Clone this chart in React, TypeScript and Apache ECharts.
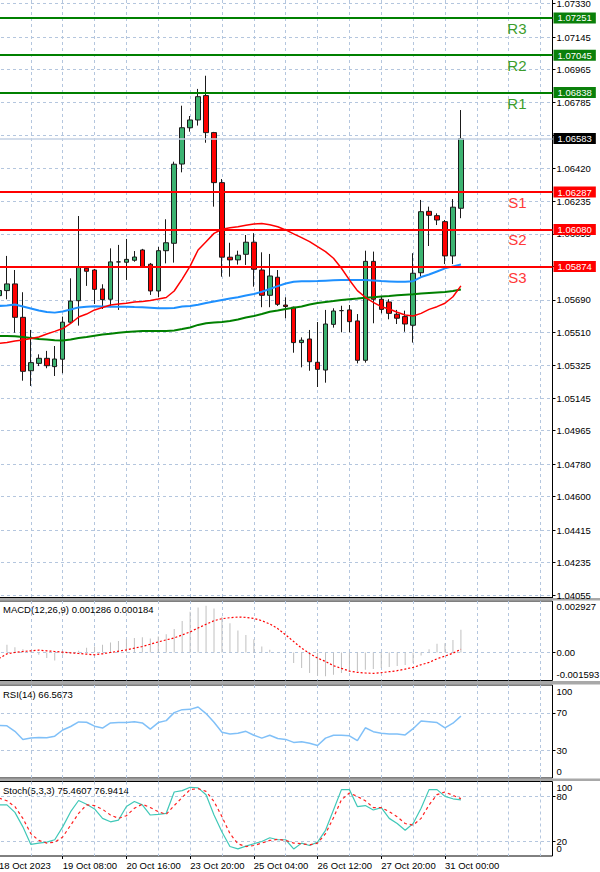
import React, { useEffect, useRef } from 'react';
import * as echarts from 'echarts';

const FONT = '"Liberation Sans", Arial, sans-serif';

// ---- candles (H4) ----
const candleOpen = [1.05713, 1.05741, 1.05778, 1.05593, 1.05297, 1.05338, 1.05366, 1.0532, 1.05361, 1.05566,
  1.05685, 1.05865, 1.05855, 1.0575, 1.05693, 1.059, 1.05898, 1.05909, 1.05966, 1.05887,
  1.05739, 1.05962, 1.06003, 1.06442, 1.06643, 1.06686, 1.06821, 1.06616, 1.06339, 1.05926,
  1.05911, 1.05942, 1.06009, 1.05855, 1.05715, 1.05815, 1.05661, 1.05649, 1.05453, 1.05473,
  1.05344, 1.05301, 1.05554, 1.0563, 1.05634, 1.05573, 1.05355, 1.05903, 1.05693, 1.05678,
  1.0561, 1.05597, 1.05549, 1.0584, 1.0618, 1.06156, 1.06123, 1.05933, 1.06197];
const candleHigh = [1.05772, 1.05933, 1.05855, 1.05732, 1.05523, 1.05388, 1.05407, 1.05434, 1.05597, 1.05809,
  1.06154, 1.05869, 1.05861, 1.05776, 1.05975, 1.05994, 1.06027, 1.0596, 1.05972, 1.05894,
  1.05983, 1.06136, 1.06455, 1.06765, 1.06708, 1.06858, 1.06931, 1.0662, 1.06359, 1.06006,
  1.05962, 1.06049, 1.06059, 1.05953, 1.05944, 1.05855, 1.05704, 1.05652, 1.05482, 1.05523,
  1.05567, 1.05634, 1.05643, 1.05657, 1.05661, 1.05611, 1.05962, 1.05957, 1.05706, 1.05693,
  1.05634, 1.0563, 1.05948, 1.06243, 1.06206, 1.06169, 1.06132, 1.06248, 1.06741];
const candleLow = [1.05689, 1.05693, 1.05508, 1.05242, 1.05213, 1.05323, 1.05311, 1.05268, 1.05283, 1.0556,
  1.05547, 1.05767, 1.05667, 1.05639, 1.05649, 1.05634, 1.058, 1.05901, 1.05872, 1.05717,
  1.05704, 1.05892, 1.05896, 1.06396, 1.06621, 1.06655, 1.0656, 1.06206, 1.05818, 1.05818,
  1.05885, 1.05883, 1.05763, 1.05649, 1.05649, 1.05656, 1.05588, 1.05397, 1.05316, 1.05297,
  1.05207, 1.05231, 1.05536, 1.0551, 1.0551, 1.05338, 1.05342, 1.0556, 1.05615, 1.05582,
  1.05556, 1.05513, 1.05453, 1.05818, 1.05988, 1.06104, 1.05888, 1.05888, 1.06142];
const candleClose = [1.05741, 1.05778, 1.05593, 1.05294, 1.05342, 1.05366, 1.05325, 1.05362, 1.05566, 1.05683,
  1.05872, 1.05848, 1.05748, 1.05691, 1.059, 1.059, 1.05914, 1.05927, 1.05874, 1.05739,
  1.05962, 1.06006, 1.06441, 1.06643, 1.06686, 1.06815, 1.06616, 1.06339, 1.05926, 1.05911,
  1.05937, 1.06009, 1.05859, 1.05715, 1.05822, 1.05665, 1.05653, 1.05453, 1.05466, 1.05347,
  1.05305, 1.05556, 1.05628, 1.0563, 1.05569, 1.05355, 1.05903, 1.05693, 1.05637, 1.05615,
  1.05588, 1.05556, 1.05837, 1.06178, 1.06158, 1.06132, 1.05933, 1.06203, 1.06583];

// ---- moving averages ----
const maRed = [1.05448, 1.05454, 1.05462, 1.05467, 1.05476, 1.05484, 1.05501, 1.05515, 1.05531, 1.05559,
  1.05595, 1.05611, 1.05634, 1.05647, 1.05661, 1.05667, 1.05671, 1.05678, 1.05681, 1.05686,
  1.05694, 1.05703, 1.05739, 1.05805, 1.05877, 1.05966, 1.06012, 1.06058, 1.06081, 1.06089,
  1.06095, 1.06103, 1.0611, 1.06112, 1.06106, 1.06095, 1.06077, 1.06055, 1.06034, 1.06012,
  1.05984, 1.05957, 1.0592, 1.05865, 1.058, 1.05741, 1.05704, 1.05676, 1.05652, 1.05639,
  1.05621, 1.05606, 1.056, 1.05615, 1.05637, 1.05652, 1.05671, 1.05707, 1.05767];
const maBlue = [1.05656, 1.05659, 1.05664, 1.05653, 1.05642, 1.05631, 1.05623, 1.05619, 1.05625, 1.05636,
  1.05648, 1.05652, 1.05654, 1.05653, 1.05652, 1.05652, 1.05652, 1.0565, 1.05649, 1.05646,
  1.05643, 1.05643, 1.05645, 1.05653, 1.05656, 1.05663, 1.05672, 1.05681, 1.05689, 1.05697,
  1.05704, 1.05714, 1.05722, 1.05735, 1.0575, 1.05766, 1.0578, 1.0579, 1.05793, 1.05793,
  1.05794, 1.05796, 1.05798, 1.058, 1.058, 1.058, 1.058, 1.05797, 1.05794, 1.05792,
  1.0579, 1.0579, 1.05793, 1.05816, 1.0583, 1.05847, 1.05864, 1.05875, 1.05886];
const maGreen = [1.0549, 1.0549, 1.05488, 1.05484, 1.05479, 1.05473, 1.0547, 1.05466, 1.05465, 1.0547,
  1.05479, 1.05484, 1.05491, 1.05498, 1.05502, 1.05508, 1.05512, 1.05515, 1.05517, 1.05517,
  1.05517, 1.05517, 1.0552, 1.05528, 1.05537, 1.05551, 1.0556, 1.05564, 1.05567, 1.05573,
  1.05581, 1.05592, 1.056, 1.05611, 1.05624, 1.05631, 1.05639, 1.05646, 1.05653, 1.05664,
  1.05672, 1.05678, 1.05683, 1.05689, 1.05693, 1.05697, 1.05702, 1.05704, 1.05708, 1.05711,
  1.05715, 1.05718, 1.05721, 1.05725, 1.05728, 1.05731, 1.05733, 1.05739, 1.05747];

// ---- pivot levels ----
const levelNames = ['R3', 'R2', 'R1', 'S1', 'S2', 'S3'];
const levelValues = [1.07251, 1.07045, 1.06838, 1.06287, 1.0608, 1.05874];
const currentPrice = 1.06583;

// ---- MACD(12,26,9) ----
const macdMain = [0.0003, 0.000433, 0.000301, 0.000188, 0.000038, -0.000132, -0.00032, -0.000452, -0.000132, -0.000038,
  0.000094, 0.000264, 0.000339, 0.000433, 0.000565, 0.000659, 0.000753, 0.000829, 0.000866, 0.000791,
  0.000904, 0.001036, 0.001337, 0.001789, 0.002317, 0.002561, 0.002655, 0.002505, 0.002034, 0.001657,
  0.001243, 0.000998, 0.000753, 0.000339, 0.000151, 0.000019, -0.000038, -0.000603, -0.000885, -0.001168,
  -0.001318, -0.001356, -0.001262, -0.001168, -0.001092, -0.001073, -0.000979, -0.000942, -0.000885, -0.000829,
  -0.000772, -0.000716, -0.000603, -0.00017, 0.000188, 0.00049, 0.000527, 0.000716, 0.001286];
const macdSignal = [-0.000339, -0.000075, 0, 0.000057, 0.000094, 0.000132, 0.000094, 0.000057, 0.000019, -0.000019,
  -0.000057, -0.000094, -0.000132, -0.000075, 0, 0.000075, 0.000151, 0.000245, 0.000339, 0.000471,
  0.000603, 0.000716, 0.000829, 0.000998, 0.001168, 0.001394, 0.001601, 0.001808, 0.001921, 0.001978,
  0.002015, 0.001996, 0.00194, 0.001808, 0.00162, 0.001356, 0.000998, 0.000622, 0.000245, -0.000057,
  -0.00032, -0.000509, -0.000753, -0.000904, -0.001055, -0.00113, -0.001168, -0.001187, -0.001149, -0.001092,
  -0.001036, -0.000942, -0.000848, -0.000697, -0.000565, -0.000358, -0.000207, -0.000038, 0.000184];

// ---- RSI(14) ----
const rsi = [56.4, 56.1, 50.2, 41.5, 42.9, 43.6, 43.2, 45.0, 51.6, 55.4,
  60.3, 59.9, 55.7, 53.7, 59.2, 59.6, 59.6, 60.6, 59.2, 52.6,
  59.6, 61.7, 70.3, 73.5, 73.8, 76.3, 69.3, 59.9, 49.1, 47.4,
  48.1, 50.2, 46.0, 42.9, 46.0, 42.5, 41.5, 38.3, 39.0, 37.3,
  34.9, 42.9, 46.0, 46.0, 45.3, 40.1, 54.0, 49.8, 48.1, 47.4,
  47.4, 46.3, 53.0, 61.3, 60.6, 59.6, 54.0, 58.9, 66.5673];

// ---- Stochastic(5,3,3) ----
const stochMain = [68.6, 68.6, 58.6, 39.1, 15.5, 17.3, 18.6, 21.8, 39.1, 59.5,
  74.5, 69.5, 63.2, 50.5, 45.9, 48.2, 66.4, 73.2, 68.6, 55.0,
  55.9, 57.3, 85.9, 87.7, 92.3, 91.4, 82.3, 55.0, 32.3, 12.7,
  9.5, 13.2, 16.4, 19.5, 24.5, 21.8, 21.8, 9.5, 17.3, 14.1,
  18.6, 34.5, 61.8, 89.1, 89.1, 66.4, 67.7, 61.8, 65.0, 50.5,
  43.6, 34.5, 43.6, 64.1, 89.1, 89.1, 80.0, 76.8, 75.4607];
const stochSignal = [77.7, 74.1, 66.4, 50.5, 30.0, 20.9, 17.3, 18.6, 25.5, 41.4,
  57.3, 68.6, 67.7, 62.7, 55.0, 50.5, 54.1, 64.1, 69.5, 65.0,
  59.5, 55.9, 67.7, 78.6, 89.1, 90.5, 86.8, 73.2, 52.7, 30.0,
  16.4, 12.7, 14.1, 17.3, 20.9, 22.3, 20.9, 17.3, 16.4, 15.0,
  17.3, 30.0, 51.4, 75.5, 84.5, 80.0, 74.1, 65.0, 65.0, 59.5,
  52.7, 43.6, 41.4, 50.5, 68.6, 82.3, 85.9, 81.4, 76.9414];

// ---- axis ticks / labels ----
const priceTicks = [1.04055, 1.04235, 1.04415, 1.046, 1.0478, 1.04965, 1.05145, 1.05325, 1.0551, 1.0569,
  1.05875, 1.06055, 1.06235, 1.0642, 1.066, 1.06785, 1.06965, 1.07145, 1.0733];
const macdLabelVals = [0.002603, 0, -0.00128];
const macdLabelTexts = ['0.002927', '0.00', '-0.001593'];
const rsiLabelVals = [93.5, 70, 30, 6.8];
const rsiLabelTexts = ['100', '70', '30', '0'];
const stochLabelVals = [80, 20];
const stochLabelTexts = ['80', '20'];
const stochEdgeVals = [92.2, 10.3];
const stochEdgeTexts = ['100', '0'];
const xLabelIdx = [0, 8, 16, 24, 32, 40, 48, 56];
const xLabelTexts = ['18 Oct 2023', '19 Oct 08:00', '20 Oct 16:00', '23 Oct 20:00', '25 Oct 04:00', '26 Oct 12:00', '27 Oct 20:00', '31 Oct 00:00'];

const N_CATS = 70;

function lookup(vals: number[], texts: string[], v: number) {
  for (let k = 0; k < vals.length; k++) {
    if (Math.abs(vals[k] - v) < 1e-7) return texts[k];
  }
  return '';
}

export default function App() {
  const ref = useRef<HTMLDivElement>(null);

  useEffect(() => {
    if (!ref.current) return;
    const chart = echarts.init(ref.current, null, { renderer: 'svg' });

    const cats = Array.from({ length: N_CATS }, (_, i) => String(i));
    const candleData = candleOpen.map((o, i) => [o, candleClose[i], candleLow[i], candleHigh[i]]);

    const gridLine = { color: '#b4c6de', type: [3, 3], width: 1 };
    const labelFont = { fontSize: 9.5, fontFamily: FONT, color: '#000' };
    const GL = -5;
    const GR = 47.5;

    const grids = [
      { left: GL, right: GR, top: 0, height: 597.5, outerBoundsMode: 'none' },
      { left: GL, right: GR, top: 601, height: 79.5, show: true, borderColor: '#000', borderWidth: 1, outerBoundsMode: 'none' },
      { left: GL, right: GR, top: 685, height: 93, show: true, borderColor: '#000', borderWidth: 1, outerBoundsMode: 'none' },
      { left: GL, right: GR, top: 781.5, height: 74.5, show: true, borderColor: '#000', borderWidth: 1, outerBoundsMode: 'none' },
    ];

    const xAxes = grids.map((_, g) => ({
      type: 'category',
      gridIndex: g,
      data: cats,
      boundaryGap: true,
      axisLine: { show: g === 0, lineStyle: { color: '#000', width: 1 } },
      axisTick: g === 3
        ? { show: true, alignWithLabel: true, interval: (i: number) => xLabelIdx.includes(i), length: 3, lineStyle: { color: '#000' } }
        : { show: false },
      axisLabel: g === 3
        ? {
          show: true, interval: (i: number) => xLabelIdx.includes(i), align: 'left', margin: 4,
          formatter: (_v: string, i: number) => xLabelTexts[xLabelIdx.indexOf(i)] || '', ...labelFont,
        }
        : { show: false },
      splitLine: { show: true, alignWithLabel: true, interval: (i: number) => i % 4 === 0, lineStyle: gridLine },
    }));

    const valueLabel = (vals: number[] | null, texts: string[] | null) => ({
      customValues: vals || priceTicks,
      formatter: (v: number) => (vals && texts ? lookup(vals, texts, v) : v.toFixed(5)),
      margin: 4, hideOverlap: false, showMinLabel: true, showMaxLabel: true,
      ...labelFont,
    });

    const yAxes = [
      {
        type: 'value', gridIndex: 0, position: 'right', min: 1.040412, max: 1.073505,
        axisLine: { show: true, lineStyle: { color: '#000' } },
        axisTick: { show: true, length: 3, customValues: priceTicks, lineStyle: { color: '#000' } },
        axisLabel: valueLabel(null, null),
        splitLine: { show: true, lineStyle: gridLine },
      },
      {
        type: 'value', gridIndex: 1, position: 'right', min: -0.001593, max: 0.002927,
        axisLine: { show: false },
        axisTick: { show: true, length: 3, customValues: [0], lineStyle: { color: '#000' } },
        axisLabel: valueLabel(macdLabelVals, macdLabelTexts),
        splitLine: { show: true, lineStyle: gridLine },
      },
      {
        type: 'value', gridIndex: 2, position: 'right', min: 0, max: 100,
        axisLine: { show: false },
        axisTick: { show: true, length: 3, customValues: [30, 70], lineStyle: { color: '#000' } },
        axisLabel: valueLabel(rsiLabelVals, rsiLabelTexts),
        splitLine: { show: true, lineStyle: gridLine },
      },
      {
        type: 'value', gridIndex: 3, position: 'right', min: 0, max: 100,
        axisLine: { show: false },
        axisTick: { show: true, length: 3, customValues: [20, 80], lineStyle: { color: '#000' } },
        axisLabel: valueLabel(stochLabelVals, stochLabelTexts),
        splitLine: { show: true, lineStyle: gridLine },
      },
      {
        type: 'value', gridIndex: 3, position: 'right', min: 0, max: 100,
        axisLine: { show: false },
        axisTick: { show: false, customValues: [20, 80] },
        axisLabel: valueLabel(stochEdgeVals, stochEdgeTexts),
        splitLine: { show: false },
      },
    ];

    const markLineData: any[] = [];
    markLineData.push({
      yAxis: currentPrice,
      lineStyle: { color: '#c4d2e4', width: 1.5, type: 'solid' },
      label: {
        show: true, position: 'end', formatter: currentPrice.toFixed(5), color: '#fff', backgroundColor: '#000',
        padding: [1, 4, 0, 4], distance: 1, fontSize: 9.5, fontFamily: FONT, lineHeight: 10,
      },
    });
    levelValues.forEach((v, k) => {
      const isR = levelNames[k][0] === 'R';
      markLineData.push({
        yAxis: v,
        lineStyle: { color: isR ? '#008000' : '#ff0000', width: 2, type: 'solid' },
        label: {
          show: true, position: 'end', formatter: v.toFixed(5), color: '#fff',
          backgroundColor: isR ? '#0a800a' : '#ff0000', padding: [1, 4, 0, 4], distance: 1,
          fontSize: 9.5, fontFamily: FONT, lineHeight: 10,
        },
      });
      markLineData.push({
        yAxis: v,
        lineStyle: { color: 'rgba(0,0,0,0)', width: 0, opacity: 1 },
        label: {
          show: true, position: 'insideEndBottom', formatter: levelNames[k], opacity: 1,
          color: isR ? '#3c9c2c' : '#ff3838', fontSize: 15, fontFamily: FONT, distance: [26, 3],
        },
      });
    });

    const option: any = {
      animation: false,
      backgroundColor: '#fff',
      grid: grids,
      xAxis: xAxes,
      yAxis: yAxes,
      graphic: [
        { type: 'rect', shape: { x: 0, y: 598, width: 600, height: 2.5 }, style: { fill: '#a8a8a8' } },
        { type: 'rect', shape: { x: 0, y: 681, width: 600, height: 3.5 }, style: { fill: '#a8a8a8' } },
        { type: 'rect', shape: { x: 0, y: 778.5, width: 600, height: 2.5 }, style: { fill: '#a8a8a8' } },
        {
          type: 'text', x: 3, y: 609,
          style: { text: `MACD(12,26,9) ${macdMain[macdMain.length - 1].toFixed(6)} ${macdSignal[macdSignal.length - 1].toFixed(6)}`, fill: '#000', font: `9.5px ${FONT}`, verticalAlign: 'middle' },
        },
        {
          type: 'text', x: 3, y: 694,
          style: { text: `RSI(14) ${rsi[rsi.length - 1].toFixed(4)}`, fill: '#000', font: `9.5px ${FONT}`, verticalAlign: 'middle' },
        },
        {
          type: 'text', x: 3, y: 790,
          style: { text: `Stoch(5,3,3) ${stochMain[stochMain.length - 1].toFixed(4)} ${stochSignal[stochSignal.length - 1].toFixed(4)}`, fill: '#000', font: `9.5px ${FONT}`, verticalAlign: 'middle' },
        },
      ],
      series: [
        {
          type: 'candlestick', xAxisIndex: 0, yAxisIndex: 0, data: candleData, barWidth: 5, clip: false,
          itemStyle: {
            color: '#3cb371', color0: '#ff0000', borderColor: '#1a1a1a', borderColor0: '#1a1a1a',
            borderColorDoji: '#1a1a1a', borderWidth: 1,
          },
          markLine: { symbol: ['none', 'none'], silent: true, animation: false, precision: 5, data: markLineData },
        },
        { type: 'line', xAxisIndex: 0, yAxisIndex: 0, data: maGreen, symbol: 'none', lineStyle: { color: '#008000', width: 2 } },
        { type: 'line', xAxisIndex: 0, yAxisIndex: 0, data: maBlue, symbol: 'none', lineStyle: { color: '#1e90ff', width: 2 } },
        { type: 'line', xAxisIndex: 0, yAxisIndex: 0, data: maRed, symbol: 'none', lineStyle: { color: '#ff0000', width: 1.5 } },
        { type: 'bar', xAxisIndex: 1, yAxisIndex: 1, data: macdMain, barWidth: 1, itemStyle: { color: '#c0c0c0' } },
        { type: 'line', xAxisIndex: 1, yAxisIndex: 1, data: macdSignal, symbol: 'none', lineStyle: { color: '#ff0000', width: 1.2, type: [2, 2] } },
        { type: 'line', xAxisIndex: 2, yAxisIndex: 2, data: rsi, symbol: 'none', lineStyle: { color: '#80c0f8', width: 1.5 } },
        { type: 'line', xAxisIndex: 3, yAxisIndex: 3, data: stochMain, symbol: 'none', lineStyle: { color: '#40c8b8', width: 1.2 } },
        { type: 'line', xAxisIndex: 3, yAxisIndex: 3, data: stochSignal, symbol: 'none', lineStyle: { color: '#ff2020', width: 1.2, type: [3, 3] } },
      ],
    };

    chart.setOption(option);
    return () => chart.dispose();
  }, []);

  return <div ref={ref} style={{ position: 'absolute', left: 0, top: 0, width: 600, height: 872 }} />;
}
